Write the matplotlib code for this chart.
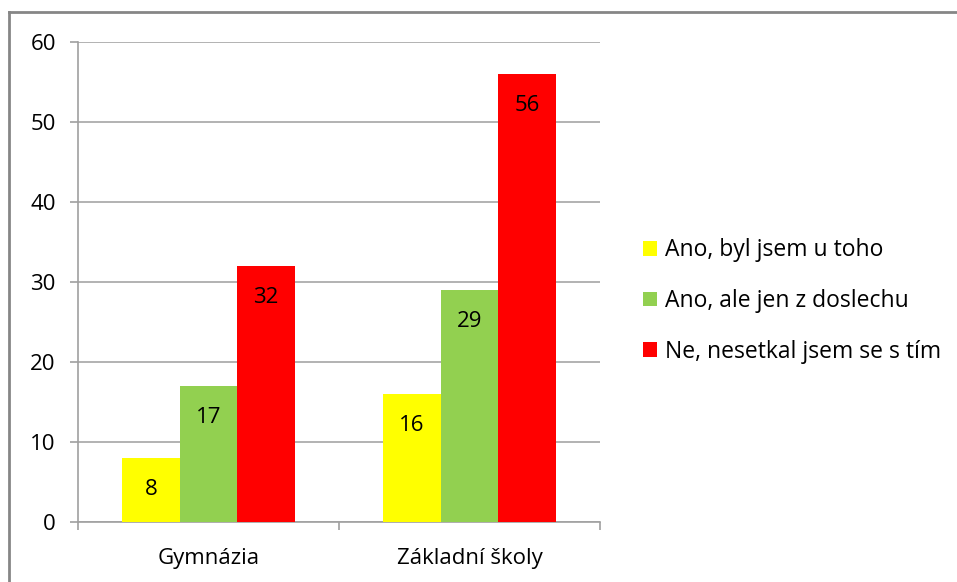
import numpy as np
import matplotlib.pyplot as plt
from matplotlib.lines import Line2D

# data
kategorie = ["Gymnázia", "Základní školy"]
serie = ["Ano, byl jsem u toho", "Ano, ale jen z doslechu", "Ne, nesetkal jsem se s tím"]
byl = [8, 16]
doslech = [17, 29]
nesetkal = [32, 56]
barvy = ["#FFFF00", "#92D050", "#FF0000"]

plt.rcParams['font.family'] = ['Open Sans', 'DejaVu Sans']
fs = 16

W, H = 957, 582
fig = plt.figure(figsize=(W / 100, H / 100), dpi=100)
ax = fig.add_axes([78 / W, 1 - 522 / H, (600 - 78) / W, (522 - 42) / H])

x = np.arange(len(kategorie))
sirka = 0.22
for k, (hodnoty, nazev, barva) in enumerate(zip([byl, doslech, nesetkal], serie, barvy)):
    pos = x + (k - 1) * sirka
    ax.bar(pos, hodnoty, width=sirka, color=barva, label=nazev, zorder=3)
    for px, v in zip(pos, hodnoty):
        ax.text(px, v - 3.95, str(v), ha='center', va='center', fontsize=fs, color='#000000', zorder=4)

ax.set_xlim(-0.5, 1.5)
ax.set_ylim(0, 60)
ax.set_yticks(range(0, 61, 10))
ax.set_xticks([-0.5, 0.5, 1.5], minor=False)
ax.set_xticklabels([])
ax.set_xticks(x, minor=True)
ax.set_xticklabels(kategorie, minor=True, fontsize=fs)
ax.tick_params(axis='x', which='minor', length=0, pad=19, colors='#000000')
ax.tick_params(axis='x', which='major', length=6, color='#a0a0a0', width=1.2)
ax.tick_params(axis='y', length=6, color='#a0a0a0', width=1.2, labelsize=fs, pad=10)
ax.grid(axis='y', color='#a6a6a6', linewidth=1.2, zorder=0)
for s in ['top', 'right']:
    ax.spines[s].set_visible(False)
for s in ['left', 'bottom']:
    ax.spines[s].set_color('#a0a0a0')
    ax.spines[s].set_linewidth(1.2)

ax.legend(loc='center left', bbox_to_anchor=(632 / W, 1 - 301 / H), bbox_transform=fig.transFigure,
          frameon=False, fontsize=16.5, handlelength=0.6, handleheight=0.6, handletextpad=0.35,
          labelspacing=1.16, borderpad=0)

# ramecek grafu
fig.add_artist(Line2D([9 / W, 9 / W], [0, 1 - 12 / H], color='#868686', linewidth=2))
fig.add_artist(Line2D([9 / W, 1], [1 - 12 / H, 1 - 12 / H], color='#868686', linewidth=2))

fig.savefig('out.png', dpi=100)
